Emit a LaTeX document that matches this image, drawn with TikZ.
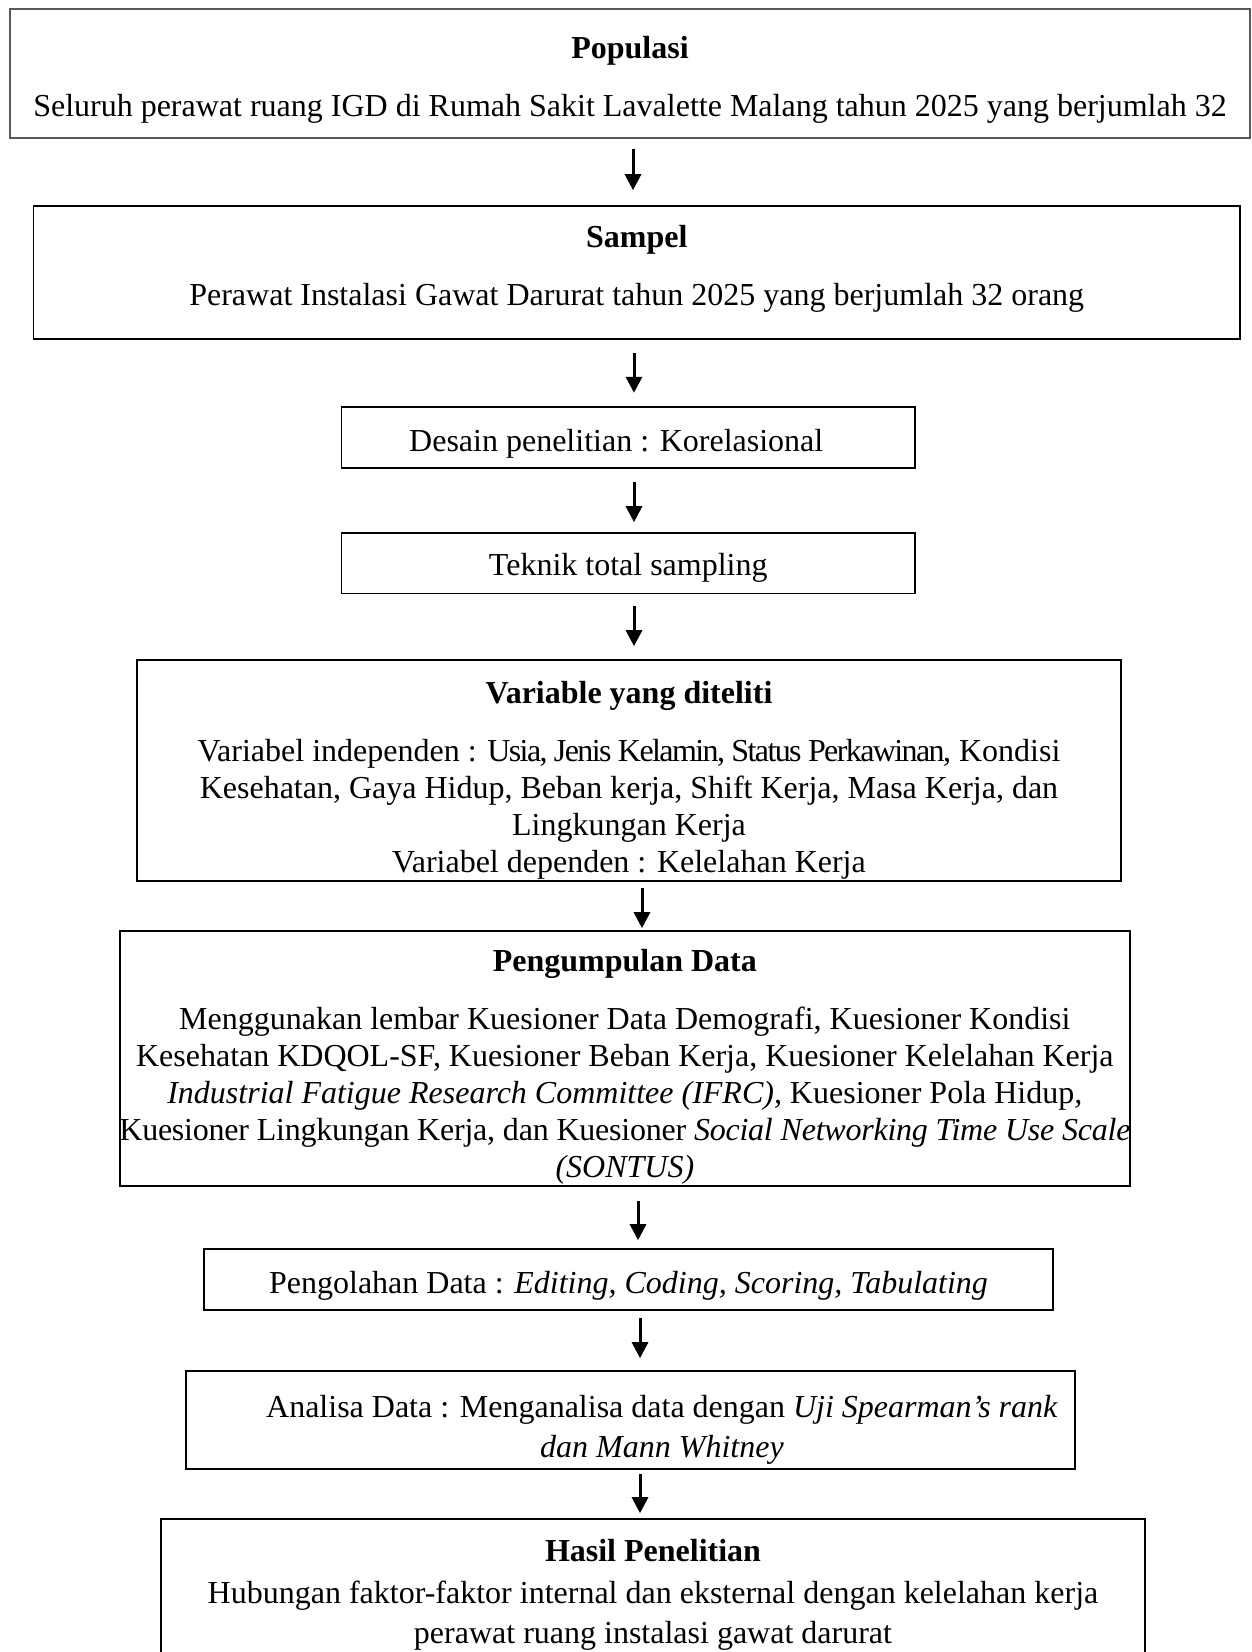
\documentclass[tikz,border=0pt]{standalone}
\usepackage{fontspec}
\setmainfont{Liberation Serif}
\usepackage{tikz}
\usetikzlibrary{arrows.meta, positioning}

\begin{document}
\begin{tikzpicture}[
  x=1pt, y=-1pt,
  fbox/.style={draw=black, line width=1.6pt, inner sep=0pt},
  topbox/.style={fbox, draw=black!65, line width=1.2pt},
  txt/.style={inner sep=0pt, align=center, font=\fontsize{32}{37}\selectfont},
  arr/.style={line width=3pt, -{Triangle[length=16pt, width=16pt]}}
]
  \useasboundingbox (0,0) rectangle (1251,1652);

  \node[topbox, minimum width=1240pt, minimum height=129pt] (pop) at (630,73.5) {};
  \node[txt] (popText) at ([yshift=-6pt]pop.center) {\textbf{Populasi}\\[21pt]Seluruh perawat ruang IGD di Rumah Sakit Lavalette Malang tahun 2025 yang berjumlah 32};

  \node[fbox, minimum width=1206.5pt, minimum height=133.3pt] (samp) at (636.75,272.35) {};
  \node[txt] (sampText) at ([yshift=4pt]samp.center) {\textbf{Sampel}\\[21pt]Perawat Instalasi Gawat Darurat tahun 2025 yang berjumlah 32 orang};

  \node[fbox, minimum width=573.5pt, minimum height=61.2pt] (desain) at (628.25,437.4) {};
  \node[txt] (desainText) at ([xshift=-12pt, yshift=-6pt]desain.center) {Desain penelitian : Korelasional};

  \node[fbox, minimum width=573.5pt, minimum height=60.6pt] (teknik) at (628.25,563.3) {};
  \node[txt] (teknikText) at ([yshift=-4.5pt]teknik.center) {Teknik total sampling};

  \node[fbox, minimum width=984pt, minimum height=221pt] (var) at (629,770.5) {};
  \node[txt] (varText) at ([yshift=-10pt]var.center) {\textbf{Variable yang diteliti}\\[21pt]Variabel independen : {\addfontfeature{LetterSpace=-5}Usia, Jenis Kelamin, Status Perkawinan,} Kondisi\\Kesehatan, Gaya Hidup, Beban kerja, Shift Kerja, Masa Kerja, dan\\Lingkungan Kerja\\Variabel dependen : Kelelahan Kerja};

  \node[fbox, minimum width=1010.3pt, minimum height=255.3pt] (kumpul) at (624.85,1058.35) {};
  \node[txt] (kumpulText) at ([yshift=-8pt]kumpul.center) {\textbf{Pengumpulan Data}\\[21pt]Menggunakan lembar Kuesioner Data Demografi, Kuesioner Kondisi\\Kesehatan KDQOL-SF, Kuesioner Beban Kerja, Kuesioner Kelelahan Kerja\\\textit{Industrial Fatigue Research Committee (IFRC),} Kuesioner Pola Hidup\textit{,}\\{\addfontfeature{LetterSpace=-0.7}Kuesioner Lingkungan Kerja, dan Kuesioner \textit{Social Networking Time Use Scale}}\\\textit{(SONTUS)}};

  \node[fbox, minimum width=849pt, minimum height=61pt] (olah) at (628.5,1279.5) {};
  \node[txt] (olahText) at ([yshift=-6pt]olah.center) {Pengolahan Data : \textit{Editing, Coding, Scoring, Tabulating}};

  \node[fbox, minimum width=889pt, minimum height=98pt] (analisa) at (630.5,1419.7) {};
  \node[txt] (analisaText) at ([xshift=31.5pt, yshift=-10pt]analisa.center) {Analisa Data : Menganalisa data dengan \textit{Uji Spearman’s rank}\\[3pt]\textit{dan Mann Whitney}};

  \node[fbox, minimum width=984pt, minimum height=141pt] (hasil) at (653,1589.5) {};
  \node[txt] (hasilText) at ([yshift=-5pt]hasil.center) {\textbf{Hasil Penelitian}\\[5pt]Hubungan faktor-faktor internal dan eksternal dengan kelelahan kerja\\[3pt]perawat ruang instalasi gawat darurat};

  \draw[arr, shorten <=10pt, shorten >=14.7pt] ([xshift=3pt]pop.south) -- ([xshift=3pt]pop.south |- samp.north);
  \draw[arr, shorten <=13.5pt, shorten >=13.2pt] ([xshift=-2.75pt]samp.south) -- ([xshift=-2.75pt]samp.south |- desain.north);
  \draw[arr, shorten <=13pt, shorten >=10pt] ([xshift=5.75pt]desain.south) -- ([xshift=5.75pt]desain.south |- teknik.north);
  \draw[arr, shorten <=11.4pt, shorten >=13pt] ([xshift=5.75pt]teknik.south) -- ([xshift=5.75pt]teknik.south |- var.north);
  \draw[arr, shorten <=6pt, shorten >=1.7pt] ([xshift=13pt]var.south) -- ([xshift=13pt]var.south |- kumpul.north);
  \draw[arr, shorten <=14pt, shorten >=8pt] ([xshift=13.15pt]kumpul.south) -- ([xshift=13.15pt]kumpul.south |- olah.north);
  \draw[arr, shorten <=6.7pt, shorten >=11.7pt] ([xshift=11.5pt]olah.south) -- ([xshift=11.5pt]olah.south |- analisa.north);
  \draw[arr, shorten <=4pt, shorten >=5pt] ([xshift=9.5pt]analisa.south) -- ([xshift=9.5pt]analisa.south |- hasil.north);
\end{tikzpicture}
\end{document}
